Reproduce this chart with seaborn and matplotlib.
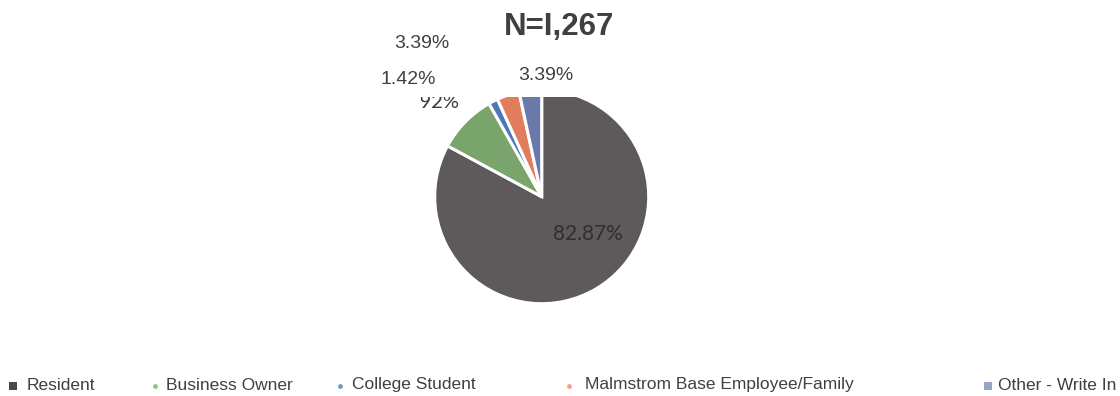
import matplotlib
matplotlib.use("Agg")
import matplotlib.pyplot as plt
import seaborn as sns

# Respondent groups and their shares (%)
categories = ["Resident", "Business Owner", "College Student",
              "Malmstrom Base Employee/Family", "Other - Write In"]
shares = [82.87, 8.92, 1.42, 3.39, 3.39]
share_labels = ["82.87%", "8.92%", "1.42%", "3.39%", "3.39%"]
title_text = "N=I,267"

wedge_colors = ["#5e5a5c", "#79a46b", "#4a79b4", "#e17c5c", "#6a79a9"]
legend_colors = ["#4a4a4a", "#95c08e", "#6f95c8", "#f0a08c", "#9aa3c4"]
legend_markers = ["s", "o", "o", "o", "s"]

sns.set_theme(style="white")
plt.rcParams["font.family"] = ["Liberation Sans", "DejaVu Sans"]

W, H = 1120, 396
fig = plt.figure(figsize=(W / 100, H / 100), dpi=100)
fig.patch.set_facecolor("white")


def fx(px):
    return px / W


def fy(py):
    return 1 - py / H


# Pie panel: centre (541.7, 196.7) px, radius 107 px, top edge cut at y=97
cx, cy, r = 541.7, 196.7, 107.0
left, right, top, bottom = 421, 660, 97, 320
ax = fig.add_axes([fx(left), fy(bottom), (right - left) / W, (bottom - top) / H])
wedges, _ = ax.pie(shares, colors=wedge_colors, startangle=90, counterclock=False,
                   wedgeprops=dict(edgecolor="white", linewidth=2.2))
for w in wedges:
    w.set_clip_on(True)
    w.set_clip_path(ax.patch)
ax.set_xlim((left - cx) / r, (right - cx) / r)
ax.set_ylim(-(bottom - cy) / r, (cy - top) / r)
ax.set_aspect("auto")
ax.axis("off")

# In-panel labels (clipped by the panel)
ax.text((588 - cx) / r, -(234 - cy) / r, share_labels[0], ha="center", va="center",
        fontsize=15, color="#2e2e2e", family=["Lato", "DejaVu Sans"])
t = ax.text((459 - cx) / r, (cy - 102) / r, share_labels[1], ha="right", va="center",
            fontsize=14.5, color="#3a3a3a", family=["Lato", "DejaVu Sans"],
            clip_on=True)
t.set_clip_path(ax.patch)

# Outside labels
fig.text(fx(422), fy(44), share_labels[3], ha="center", va="center",
         fontsize=14, color="#404040")
fig.text(fx(408), fy(79), share_labels[2], ha="center", va="center",
         fontsize=14, color="#404040")
fig.text(fx(546), fy(76), share_labels[4], ha="center", va="center",
         fontsize=14, color="#404040")

fig.text(fx(559), fy(27), title_text, ha="center", va="center",
         fontsize=22.5, fontweight="bold", color="#404040")

# Legend row
lax = fig.add_axes([0, 0, 1, 1], facecolor="none")
lax.set_xlim(0, W)
lax.set_ylim(H, 0)
lax.axis("off")
marker_x = [13, 155, 340, 569, 988]
text_x = [27, 166, 352, 585, 998]
legend_y = 386
for name, col, mk, mx, tx in zip(categories, legend_colors, legend_markers, marker_x, text_x):
    lax.scatter([mx], [legend_y], marker=mk, s=28 if mk == "s" else 12,
                color=col, linewidths=0)
    lax.text(tx, legend_y - 1, name, ha="left", va="center",
             fontsize=12.5, color="#404040")

fig.savefig("out.png", dpi=100, facecolor="white")
